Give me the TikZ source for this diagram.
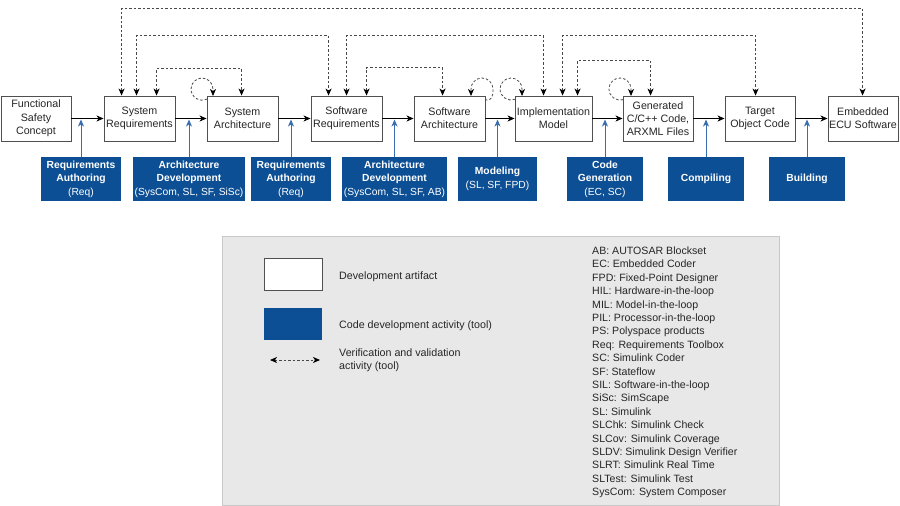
\documentclass[tikz,border=0pt]{standalone}
\usepackage{fontspec}
\setmainfont{Liberation Sans}
\usetikzlibrary{arrows.meta,calc}
\definecolor{actblue}{HTML}{0D4F95}
\definecolor{linkblue}{HTML}{3A6DB0}
\definecolor{legendgray}{HTML}{E8E8E8}
\definecolor{legendedge}{HTML}{C8C8C8}
\definecolor{edgegray}{HTML}{505050}
\definecolor{dashgray}{HTML}{484848}
\newcommand{\tooltxt}[1]{{\mdseries\fontsize{10.3}{13.6}\selectfont #1}}
\begin{document}
\begin{tikzpicture}[x=1pt,y=-1pt,
  art/.style={draw=edgegray, line width=0.9pt, fill=white, minimum height=45pt, inner sep=0pt, align=center, font=\fontsize{10.7}{13.3}\selectfont, text=black!85},
  act/.style={fill=actblue, text=white, minimum height=44pt, inner sep=0pt, align=center, font=\fontsize{10.3}{13.6}\selectfont\bfseries},
  tip/.tip={Stealth[length=7pt,width=6pt,inset=2pt]},
  flow/.style={draw=black, line width=0.8pt, -tip},
  tool/.style={draw=linkblue, fill=linkblue, line width=1pt, -tip},
  vv/.style={draw=dashgray, line width=0.8pt, dash pattern=on 2.5pt off 2pt, {Stealth[length=7pt,width=6pt,inset=2pt,fill=black,color=black]}-{Stealth[length=7pt,width=6pt,inset=2pt,fill=black,color=black]}},
  vloop/.style={draw=dashgray, line width=0.8pt, dash pattern=on 2.5pt off 2pt, -{Stealth[length=7pt,width=6pt,inset=2pt,fill=black,color=black]}},
  legtxt/.style={anchor=west, inner sep=0pt, align=left, font=\fontsize{10.7}{13.2}\selectfont, text=black!85},
  abbr/.style={anchor=base west, inner sep=0pt, font=\fontsize{10.6}{13.4}\selectfont, text=black!85},
]
\useasboundingbox (0,0) rectangle (900,506);

% artifacts
\node[art, minimum width=70pt] (fsc) at (36,118.5) {Functional\\Safety\\Concept};
\node[art, minimum width=71pt] (sr)  at (139.5,118.5) {System\\Requirements};
\node[art, minimum width=71pt] (sa)  at (242.5,118.5) {System\\Architecture};
\node[art, minimum width=71pt] (swr) at (346.5,118.5) {Software\\Requirements};
\node[art, minimum width=71pt] (swa) at (449.5,118.5) {Software\\Architecture};
\node[art, minimum width=77pt] (im)  at (553.5,118.5) {Implementation\\Model};
\node[art, minimum width=70pt] (gc)  at (658,118.5) {Generated\\C/C++ Code,\\ARXML Files};
\node[art, minimum width=70pt] (toc) at (760,118.5) {Target\\Object Code};
\node[art, minimum width=70pt] (ecu) at (863,118.5) {Embedded\\ECU Software};

% activities
\node[act, minimum width=80pt]  (b1) at (81,179)    {Requirements\\Authoring\\\tooltxt{(Req)}};
\node[act, minimum width=112pt] (b2) at (189,179)   {Architecture\\Development\\\tooltxt{(SysCom, SL, SF, SiSc)}};
\node[act, minimum width=80pt]  (b3) at (291,179)   {Requirements\\Authoring\\\tooltxt{(Req)}};
\node[act, minimum width=105pt] (b4) at (394.5,179) {Architecture\\Development\\\tooltxt{(SysCom, SL, SF, AB)}};
\node[act, minimum width=79pt]  (b5) at (497.5,179) {Modeling\\\tooltxt{(SL, SF, FPD)}};
\node[act, minimum width=76pt]  (b6) at (605,179)   {Code\\Generation\\\tooltxt{(EC, SC)}};
\node[act, minimum width=76pt]  (b7) at (706,179)   {Compiling};
\node[act, minimum width=76pt]  (b8) at (807,179)   {Building};

% flow
\draw[flow] (fsc) -- (sr);
\draw[flow] (sr) -- (sa);
\draw[flow] (sa) -- (swr);
\draw[flow] (swr) -- (swa);
\draw[flow] (swa) -- (im);
\draw[flow] (im) -- (gc);
\draw[flow] (gc) -- (toc);
\draw[flow] (toc) -- (ecu);

% tool arrows
\foreach \b in {b1,b2,b3,b4,b5,b6,b7,b8}
  \draw[tool] (\b.north) -- ($(\b.north |- fsc.east)+(0,1)$);

% verification links
\draw[vv] ([xshift=18pt]sr.north west) -- ++(0,-87) -| ([xshift=35pt]ecu.north west);
\draw[vv] ([xshift=33pt]sr.north west) -- ++(0,-60) -| ([xshift=18pt]swr.north west);
\draw[vv] ([xshift=36pt]swr.north west) -- ++(0,-60) -| ([xshift=29pt]im.north west);
\draw[vv] ([xshift=48pt]im.north west) -- ++(0,-60) -| ([xshift=31pt]toc.north west);
\draw[vv] ([xshift=53pt]sr.north west) -- ++(0,-27) -| ([xshift=35pt]sa.north west);
\draw[vv] ([xshift=56pt]swr.north west) -- ++(0,-28) -| ([xshift=29pt]swa.north west);
\draw[vv] ([xshift=63pt]im.north west) -- ++(0,-35) -| ([xshift=28pt]gc.north west);

% self loops
\draw[vloop] (207,99) .. controls (199.7,102.7) and (191,97.2) .. (191,89)
  .. controls (191,83) and (196,78) .. (202,78) .. controls (208,78) and (213,83) .. (213,89) -- (213,96);
\draw[vloop] (485,99.6) .. controls (492,101.6) and (493,96.3) .. (493,89)
  .. controls (493,83) and (488,78) .. (482,78) .. controls (476,78) and (471,83) .. (471,89) -- (471,96);
\draw[vloop] (515,99.2) .. controls (507.8,102) and (500,96.7) .. (500,89)
  .. controls (500,83) and (505,78) .. (511,78) .. controls (517,78) and (522,83) .. (522,89) -- (522,96);
\draw[vloop] (623,99.6) .. controls (616,101.6) and (609,96.3) .. (609,89)
  .. controls (609,83) and (614,78) .. (620,78) .. controls (626,78) and (631,83) .. (631,89) -- (631,96);

% legend
\node[draw=legendedge, fill=legendgray, line width=0.8pt, minimum width=557pt, minimum height=269pt, inner sep=0pt] (leg) at (500.5,370.5) {};
\node[draw=edgegray, line width=0.9pt, fill=white, minimum width=58pt, minimum height=32pt, inner sep=0pt] (lart) at (293,274) {};
\node[fill=actblue, minimum width=58pt, minimum height=32pt, inner sep=0pt] (lact) at (293,324) {};
\coordinate (lvl) at (270,360);
\coordinate (lvr) at (320,360);
\draw[vv] (lvl) -- (lvr);
\node[legtxt] (t1) at (339,277) {Development artifact};
\node[legtxt] (t2) at (339,326) {Code development activity (tool)};
\node[legtxt] (t3) at (339,360) {Verification and validation\\activity (tool)};

\foreach \t [count=\i] in {AB: AUTOSAR Blockset, EC: Embedded Coder, FPD: Fixed-Point Designer, HIL: Hardware-in-the-loop, MIL: Model-in-the-loop, PIL: Processor-in-the-loop, PS: Polyspace products, Req: Requirements Toolbox, SC: Simulink Coder, SF: Stateflow, SIL: Software-in-the-loop, SiSc: SimScape, SL: Simulink, SLChk: Simulink Check, SLCov: Simulink Coverage, SLDV: Simulink Design Verifier, SLRT: Simulink Real Time, SLTest: Simulink Test, SysCom: System Composer}
  \node[abbr] (ab\i) at (592,{254.4+13.4*(\i-1)}) {\t};
\end{tikzpicture}
\end{document}
